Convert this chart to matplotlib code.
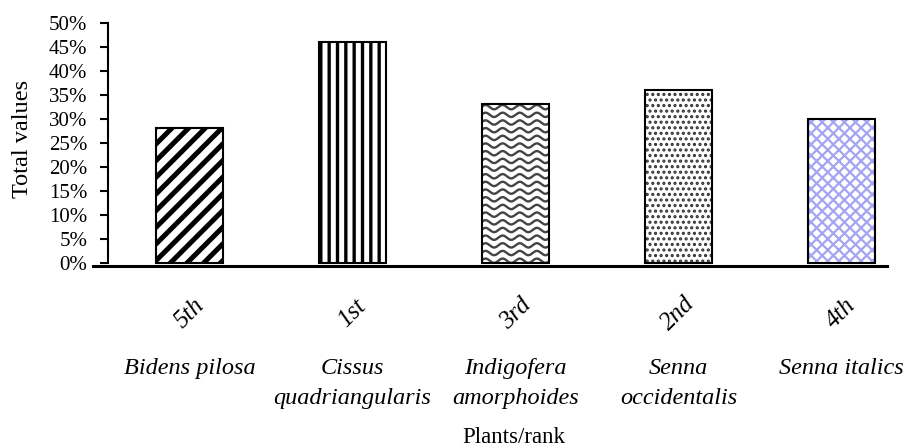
import matplotlib
matplotlib.use("Agg")
import matplotlib.pyplot as plt
import numpy as np

# Data
plants = ["Bidens pilosa", "Cissus\nquadriangularis", "Indigofera\namorphoides",
          "Senna\noccidentalis", "Senna italics"]
ranks = ["5th", "1st", "3rd", "2nd", "4th"]
values = [0.28, 0.46, 0.33, 0.36, 0.30]
yticks = [0, 0.05, 0.10, 0.15, 0.20, 0.25, 0.30, 0.35, 0.40, 0.45, 0.50]

plt.rcParams['font.family'] = ['Liberation Serif', 'DejaVu Serif']

fig = plt.figure(figsize=(9.06, 4.48), dpi=100)
ax = fig.add_axes([93 / 906, 1 - 266 / 448, 813 / 906, 243.3 / 448])

x = np.arange(len(plants))
w = 0.405

# bar styles: (hatch, hatch colour, hatch linewidth); None -> wavy lines drawn below
styles = [("//", "black", 3.6), ("||", "black", 2.4), (None, None, 1.0),
          ("...", "#333333", 1.5), ("xxx", "#a4a4f2", 1.6)]

bars = []
for i, (h, hc, hlw) in enumerate(styles):
    with plt.rc_context({'hatch.linewidth': hlw}):
        if h is not None:
            b = ax.bar(x[i], values[i], w, color="white", edgecolor=hc, hatch=h, linewidth=0)
            for p in b:
                if hasattr(p, "set_hatch_linewidth"):
                    p.set_hatch_linewidth(hlw)
        ob = ax.bar(x[i], values[i], w, fill=False, edgecolor="black", linewidth=1.5, zorder=3)
        bars.append(ob[0])

# wavy texture for the third bar, clipped to the bar
xx = np.linspace(x[2] - w / 2 - 0.05, x[2] + w / 2 + 0.05, 200)
for y0 in np.arange(0.004, values[2] + 0.01, 0.016):
    ln, = ax.plot(xx, y0 + 0.0045 * np.sin((xx - x[2]) * 2 * np.pi / 0.105),
                  color="#444444", lw=1.7, zorder=2)
    ln.set_clip_path(bars[2])

ax.set_xlim(-0.592, -0.592 + 813 / 163)
ax.set_ylim(-0.007, 0.5)

ax.spines['top'].set_visible(False)
ax.spines['right'].set_visible(False)
ax.spines['left'].set_position(('data', -0.5))
ax.spines['left'].set_bounds(0, 0.5)
ax.spines['left'].set_linewidth(1.5)
ax.spines['bottom'].set_bounds(-0.592, 4.28)
ax.spines['bottom'].set_linewidth(2.2)

ax.set_yticks(yticks)
ax.set_yticklabels([f"{int(round(t * 100))}%" for t in yticks], fontsize=15)
ax.tick_params(axis='y', direction='out', length=5.8, width=1.5, pad=9)

ax.set_xticks(x)
ax.set_xticklabels(plants, fontsize=17.5, style='italic', linespacing=1.6)
ax.tick_params(axis='x', length=0, pad=66)

for xi, r in zip(x, ranks):
    ax.text(xi, -0.195, r, transform=ax.get_xaxis_transform(), rotation=45,
            ha='center', va='center', fontsize=18, style='italic')

ax.set_xlabel("Plants/rank", fontsize=16.5)
ax.xaxis.set_label_coords(0.518, -0.66)
fig.text(23 / 906, 1 - 139 / 448, "Total values", rotation=90, ha='center',
         va='center', fontsize=17.5)

fig.savefig("out.png", dpi=100)
